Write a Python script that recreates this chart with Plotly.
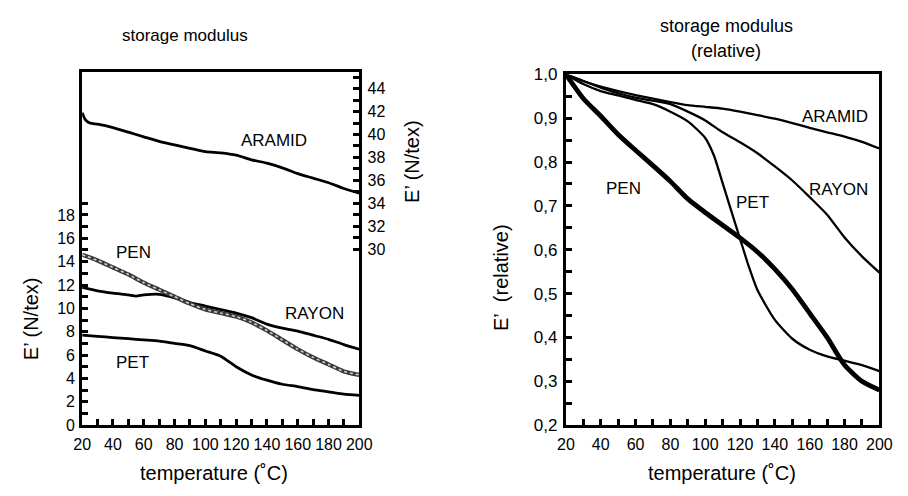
import plotly.graph_objects as go

# ---------------- data ----------------
T = [20, 30, 40, 50, 60, 70, 80, 90, 100, 110, 120, 130, 140, 150, 160, 170, 180, 190, 200]

# left panel: absolute storage modulus (N/tex)
aramid_t = [20, 22, 25, 30, 40, 50, 60, 70, 80, 90, 100, 110, 120, 130, 140, 150, 160, 170, 180, 190, 200]
aramid_abs = [41.9, 41.3, 41.0, 40.9, 40.6, 40.2, 39.8, 39.4, 39.1, 38.8, 38.5, 38.4, 38.2, 37.8, 37.5,
              37.1, 36.6, 36.2, 35.8, 35.3, 34.9]
pen_abs = [14.6, 14.1, 13.5, 12.9, 12.2, 11.6, 11.0, 10.4, 9.9, 9.6, 9.3, 8.8, 8.1, 7.3, 6.5, 5.8, 5.2, 4.6, 4.3]
rayon_t = [20, 30, 40, 50, 55, 60, 70, 80, 90, 100, 110, 120, 130, 140, 150, 160, 170, 180, 190, 200]
rayon_abs = [11.8, 11.5, 11.3, 11.15, 11.05, 11.15, 11.2, 10.9, 10.5, 10.2, 9.9, 9.6, 9.2, 8.65, 8.3, 8.05,
             7.7, 7.35, 6.9, 6.5]
pet_abs = [7.7, 7.6, 7.5, 7.4, 7.3, 7.2, 7.0, 6.8, 6.35, 5.9, 5.0, 4.3, 3.85, 3.5, 3.3, 3.05, 2.85, 2.65, 2.55]

# right panel: relative storage modulus
aramid_rel = [1.0, 0.985, 0.972, 0.962, 0.953, 0.945, 0.937, 0.93, 0.926, 0.922, 0.915, 0.907, 0.899,
              0.889, 0.878, 0.868, 0.858, 0.846, 0.831]
rayon_rel = [1.0, 0.985, 0.97, 0.957, 0.947, 0.94, 0.932, 0.915, 0.895, 0.868, 0.845, 0.82, 0.79, 0.758,
             0.72, 0.68, 0.628, 0.585, 0.548]
pet_t = [20, 30, 40, 50, 60, 70, 80, 90, 100, 105, 110, 115, 120, 125, 130, 140, 150, 160, 170, 180, 190, 200]
pet_rel = [1.0, 0.978, 0.962, 0.952, 0.942, 0.932, 0.915, 0.893, 0.855, 0.815, 0.752, 0.688, 0.625, 0.562,
           0.508, 0.44, 0.397, 0.372, 0.357, 0.347, 0.337, 0.323]
pen_rel = [1.0, 0.945, 0.905, 0.863, 0.827, 0.792, 0.756, 0.716, 0.685, 0.656, 0.627, 0.595, 0.556, 0.51,
           0.455, 0.40, 0.337, 0.30, 0.28]

x_ticks = list(range(20, 201, 10))
x_text = [str(v) if v % 20 == 0 else "" for v in x_ticks]
yl_ticks = list(range(0, 20))
yl_text = [str(v) if v % 2 == 0 else "" for v in yl_ticks]
yr_ticks = list(range(30, 46))
yr_text = [str(v) if v % 2 == 0 else "" for v in yr_ticks]
rel_ticks = [round(0.2 + 0.05 * i, 2) for i in range(17)]
rel_text = [("%.1f" % v).replace(".", ",") if i % 2 == 0 else "" for i, v in enumerate(rel_ticks)]

labels_left = [("ARAMID", 144.8, 39.5, "y2"), ("PEN", 53.6, 14.8, "y"),
               ("RAYON", 170.8, 9.55, "y"), ("PET", 53, 5.4, "y")]
labels_right = [("PEN", 52.8, 0.739), ("ARAMID", 174.7, 0.904),
                ("RAYON", 176.8, 0.737), ("PET", 127, 0.707)]

# ---------------- figure ----------------
W, H = 908, 496
FONT = "Liberation Sans, Arial, sans-serif"
sp = dict(shape="spline", smoothing=0.6)

fig = go.Figure()
fig.add_trace(go.Scatter(x=aramid_t, y=aramid_abs, xaxis="x", yaxis="y2", mode="lines",
                         line=dict(color="black", width=2.8, **sp)))
fig.add_trace(go.Scatter(x=rayon_t, y=rayon_abs, xaxis="x", yaxis="y", mode="lines",
                         line=dict(color="black", width=2.8, **sp)))
fig.add_trace(go.Scatter(x=T, y=pet_abs, xaxis="x", yaxis="y", mode="lines",
                         line=dict(color="black", width=2.8, **sp)))
fig.add_trace(go.Scatter(x=T, y=pen_abs, xaxis="x", yaxis="y", mode="lines",
                         line=dict(color="#3a3a3a", width=4.2, **sp)))
fig.add_trace(go.Scatter(x=T, y=pen_abs, xaxis="x", yaxis="y", mode="lines",
                         line=dict(color="#d0d0d0", width=1.6, dash="dot", **sp)))

fig.add_trace(go.Scatter(x=T, y=aramid_rel, xaxis="x2", yaxis="y3", mode="lines",
                         line=dict(color="black", width=2.3, **sp)))
fig.add_trace(go.Scatter(x=T, y=rayon_rel, xaxis="x2", yaxis="y3", mode="lines",
                         line=dict(color="black", width=2.3, **sp)))
fig.add_trace(go.Scatter(x=pet_t, y=pet_rel, xaxis="x2", yaxis="y3", mode="lines",
                         line=dict(color="black", width=2.3, **sp)))
fig.add_trace(go.Scatter(x=T, y=pen_rel, xaxis="x2", yaxis="y3", mode="lines",
                         line=dict(color="black", width=4.8, **sp)))


def ax_common(size, standoff=0):
    return dict(showgrid=False, zeroline=False, showline=True, linecolor="black", linewidth=3,
                ticks="inside", ticklen=6, tickwidth=2.5, tickcolor="black",
                ticklabelstandoff=standoff,
                tickfont=dict(size=size, color="black", family=FONT))


fig.update_layout(
    width=W, height=H, margin=dict(l=0, r=0, t=0, b=0),
    paper_bgcolor="white", plot_bgcolor="white", showlegend=False,
    font=dict(family=FONT, color="black"),
    xaxis=dict(domain=[75 / W, 359 / W], range=[20, 200], anchor="y", mirror=True,
               tickmode="array", tickvals=x_ticks, ticktext=x_text, **ax_common(16, 3)),
    yaxis=dict(domain=[1 - 432.7 / H, 1 - 66 / H], range=[0, 30.2], anchor="x",
               tickmode="array", tickvals=yl_ticks, ticktext=yl_text, **ax_common(16, 1)),
    yaxis2=dict(overlaying="y", side="right", anchor="x", range=[14.7, 45.4],
                tickmode="array", tickvals=yr_ticks, ticktext=yr_text, **ax_common(16, 2)),
    xaxis2=dict(domain=[570.7 / W, 892 / W], range=[20, 200], anchor="y3", mirror=True,
                tickmode="array", tickvals=x_ticks, ticktext=x_text, **ax_common(16, 3)),
    yaxis3=dict(domain=[1 - 432.7 / H, 1 - 68 / H], range=[0.2, 1.0], anchor="x2", mirror=True,
                tickmode="array", tickvals=rel_ticks, ticktext=rel_text, **ax_common(17, 2)),
)

ann = []
for txt, x, y, yr in labels_left:
    ann.append(dict(text=txt, x=x, y=y, xref="x", yref=yr, showarrow=False,
                    font=dict(size=17, color="black", family=FONT)))
for txt, x, y in labels_right:
    ann.append(dict(text=txt, x=x, y=y, xref="x2", yref="y3", showarrow=False,
                    font=dict(size=17, color="black", family=FONT)))


def pann(txt, px, py, size=17, angle=0):
    return dict(text=txt, x=px / W, y=1 - py / H, xref="paper", yref="paper", showarrow=False,
                xanchor="center", yanchor="middle", textangle=angle,
                font=dict(size=size, color="black", family=FONT))


ann += [
    pann("storage modulus", 180, 28, 17),
    pann("storage modulus", 735, 18, 18),
    pann("(relative)", 735, 44, 18),
    pann("temperature (˚C)", 210, 483, 20),
    pann("temperature (˚C)", 731, 483, 20),
    pann("E’ (N/tex)", 22, 322, 20, -90),
    pann("E’ (N/tex)", 413, 158, 20, -90),
    pann("E’\u00a0\u00a0(relative)", 505, 279, 20, -90),
]
fig.update_layout(annotations=ann)

fig.write_html("out.html")
